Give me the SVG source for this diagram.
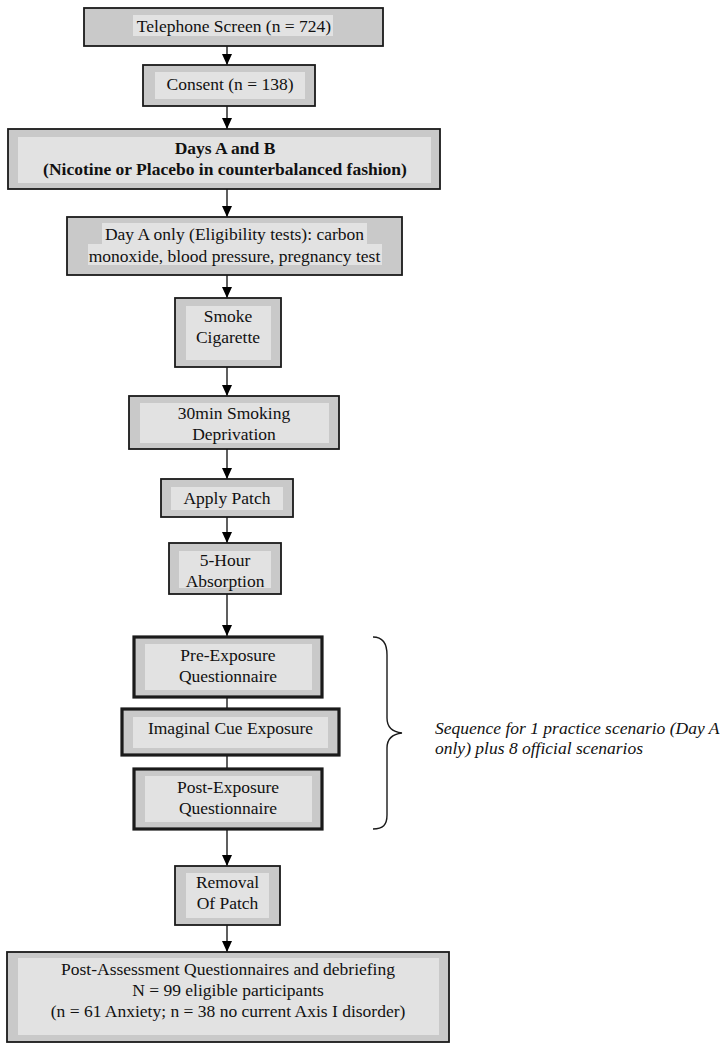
<svg xmlns="http://www.w3.org/2000/svg" width="728" height="1050" viewBox="0 0 728 1050">
<defs>
<style>
.o{fill:#c9c9c9;stroke:#1a1a1a;stroke-width:1.8}
.ot{fill:#c9c9c9;stroke:#1a1a1a;stroke-width:3.2}
.i{fill:#e2e2e2;stroke:none}
.t{font-family:"Liberation Serif","Times New Roman",serif;font-size:17.5px;fill:#111;text-anchor:middle}
.b{font-weight:bold}
.c{stroke:#1a1a1a;stroke-width:1.4;fill:none}
.n{font-family:"Liberation Serif","Times New Roman",serif;font-size:17.5px;font-style:italic;fill:#111}
</style>
<marker id="ah" markerWidth="11" markerHeight="10" refX="11" refY="5" orient="auto" markerUnits="userSpaceOnUse" viewBox="0 0 11 10">
<path d="M0,0 L11,5 L0,10 Z" fill="#000"/>
</marker>
</defs>
<rect width="728" height="1050" fill="#fff"/>
<g id="connectors">
<path class="c" d="M227,46 V65" marker-end="url(#ah)"/>
<path class="c" d="M227,106 V129" marker-end="url(#ah)"/>
<path class="c" d="M227,189 V217" marker-end="url(#ah)"/>
<path class="c" d="M227,275 V298" marker-end="url(#ah)"/>
<path class="c" d="M227,367 V396" marker-end="url(#ah)"/>
<path class="c" d="M227,449 V479" marker-end="url(#ah)"/>
<path class="c" d="M227,517 V543" marker-end="url(#ah)"/>
<path class="c" d="M227,594 V636" marker-end="url(#ah)"/>
<path class="c" d="M227,697 V709"/>
<path class="c" d="M227,755 V769"/>
<path class="c" d="M227,829 V866" marker-end="url(#ah)"/>
<path class="c" d="M227,925 V952" marker-end="url(#ah)"/>
</g>
<g id="n1">
<rect class="o" x="84" y="8" width="299" height="38"/>
<rect class="i" x="133" y="15" width="200" height="21"/>
<text class="t" x="234" y="32">Telephone Screen (n = 724)</text>
</g>
<g id="n2">
<rect class="o" x="143" y="65" width="172" height="41"/>
<rect class="i" x="155" y="72" width="150" height="27"/>
<text class="t" x="230" y="90">Consent (n = 138)</text>
</g>
<g id="n3">
<rect class="o" x="8" y="129" width="432" height="60"/>
<rect class="i" x="18" y="137" width="413" height="46"/>
<text class="t b" x="225" y="154">Days A and B</text>
<text class="t b" x="225" y="174.5">(Nicotine or Placebo in counterbalanced fashion)</text>
</g>
<g id="n4">
<rect class="o" x="67" y="217" width="335" height="58"/>
<rect class="i" x="102" y="223" width="265" height="21"/>
<rect class="i" x="88" y="244" width="294" height="21"/>
<text class="t" x="234.5" y="240">Day A only (Eligibility tests): carbon</text>
<text class="t" x="234.5" y="262">monoxide, blood pressure, pregnancy test</text>
</g>
<g id="n5">
<rect class="o" x="175" y="298" width="106" height="69"/>
<rect class="i" x="186" y="306" width="85" height="54"/>
<text class="t" x="228" y="322">Smoke</text>
<text class="t" x="228" y="343">Cigarette</text>
</g>
<g id="n6">
<rect class="o" x="129" y="396" width="210" height="53"/>
<rect class="i" x="140" y="403" width="189" height="40"/>
<text class="t" x="234" y="419">30min Smoking</text>
<text class="t" x="234" y="439.5">Deprivation</text>
</g>
<g id="n7">
<rect class="o" x="161" y="479" width="132" height="38"/>
<rect class="i" x="171" y="487" width="112" height="23"/>
<text class="t" x="227" y="504">Apply Patch</text>
</g>
<g id="n8">
<rect class="o" x="169" y="543" width="112" height="51"/>
<rect class="i" x="179" y="551" width="92" height="37"/>
<text class="t" x="225" y="566">5-Hour</text>
<text class="t" x="225" y="586.5">Absorption</text>
</g>
<g id="n9">
<rect class="ot" x="134" y="637" width="188" height="60"/>
<rect class="i" x="145" y="644" width="167" height="46"/>
<text class="t" x="228" y="661">Pre-Exposure</text>
<text class="t" x="228" y="682">Questionnaire</text>
</g>
<g id="n10">
<rect class="ot" x="122" y="709" width="217" height="46"/>
<rect class="i" x="133" y="717" width="195" height="31"/>
<text class="t" x="230.5" y="734">Imaginal Cue Exposure</text>
</g>
<g id="n11">
<rect class="ot" x="134" y="769" width="188" height="60"/>
<rect class="i" x="145" y="776" width="167" height="46"/>
<text class="t" x="228" y="793">Post-Exposure</text>
<text class="t" x="228" y="814">Questionnaire</text>
</g>
<g id="n12">
<rect class="o" x="175" y="866" width="105" height="59"/>
<rect class="i" x="186" y="873" width="83" height="45"/>
<text class="t" x="227.5" y="888">Removal</text>
<text class="t" x="227.5" y="909">Of Patch</text>
</g>
<g id="n13">
<rect class="o" x="7" y="952" width="442" height="90"/>
<rect class="i" x="18" y="958" width="421" height="77"/>
<text class="t" x="228" y="975">Post-Assessment Questionnaires and debriefing</text>
<text class="t" x="228" y="995.5">N = 99 eligible participants</text>
<text class="t" x="228" y="1017">(n = 61 Anxiety; n = 38 no current Axis I disorder)</text>
</g>
<g id="brace">
<path class="c" stroke-width="1.6" d="M373,637 C383,637 387,643 387,655 V718 C387,727 393,732 402,733 C393,734 387,739 387,748 V815 C387,825 383,829 373,829"/>
<text class="n" x="435" y="734">Sequence for 1 practice scenario (Day A</text>
<text class="n" x="435" y="754">only) plus 8 official scenarios</text>
</g>
</svg>
